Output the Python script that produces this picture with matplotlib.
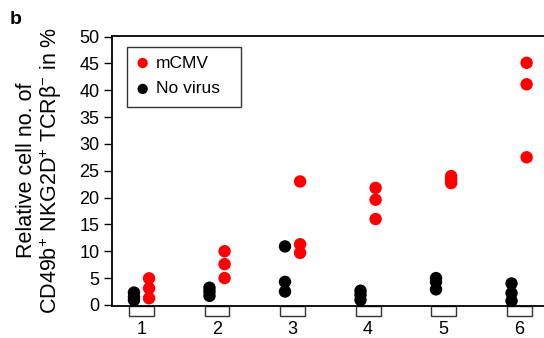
import matplotlib
matplotlib.use("Agg")
import matplotlib.pyplot as plt
from matplotlib.patches import Rectangle
from matplotlib.transforms import blended_transform_factory

plt.rcParams['font.family'] = ['Liberation Sans', 'DejaVu Sans']
plt.rcParams['mathtext.fontset'] = 'custom'
plt.rcParams['mathtext.rm'] = 'Liberation Sans'
plt.rcParams['mathtext.it'] = 'Liberation Sans'
plt.rcParams['mathtext.default'] = 'rm'

groups = [1, 2, 3, 4, 5, 6]
mcmv = [
    [4.95, 3.1, 1.25],
    [10.0, 7.6, 5.0],
    [23.0, 11.3, 9.7],
    [21.8, 19.6, 16.0],
    [24.0, 23.4, 22.7],
    [45.1, 41.1, 27.5],
]
novirus = [
    [2.3, 1.5, 0.9],
    [3.2, 2.5, 1.7],
    [10.9, 4.3, 2.5],
    [2.65, 1.9, 0.93],
    [5.0, 4.3, 2.9],
    [4.0, 2.2, 0.75],
]
yticks = [0, 5, 10, 15, 20, 25, 30, 35, 40, 45, 50]
legend_labels = ['mCMV', 'No virus']
red = '#ff0000'

fig = plt.figure(figsize=(5.44, 3.38), dpi=100)
ax = fig.add_axes([112/544, 32/338, 1 - 112/544, 270/338])

off = 0.1
for g, vals in zip(groups, novirus):
    ax.scatter([g - off]*len(vals), vals, s=80, color='black', edgecolors='none', zorder=3, clip_on=False)
for g, vals in zip(groups, mcmv):
    ax.scatter([g + off]*len(vals), vals, s=80, color=red, edgecolors='none', zorder=3, clip_on=False)

ax.set_xlim(0.609, 6.33)
ax.set_ylim(-0.2, 50.1)
ax.set_yticks(yticks)
ax.set_yticklabels([str(t) for t in yticks], fontsize=13)
ax.tick_params(axis='y', direction='out', length=6, width=1, pad=3)
ax.set_xticks(groups)
ax.set_xticklabels([str(g) for g in groups], fontsize=13)
ax.tick_params(axis='x', length=0, pad=10.5)

for s in ['left', 'bottom', 'top']:
    ax.spines[s].set_linewidth(1.3)
ax.spines['right'].set_visible(False)

trans = blended_transform_factory(ax.transData, ax.transAxes)
for g in groups:
    ax.add_patch(Rectangle((g - 0.165, -0.037), 0.33, 0.037, transform=trans,
                           facecolor='white', edgecolor='#333333', lw=1.0, clip_on=False))

fig.text(40/544, 1 - 170/338,
         'Relative cell no. of\nCD49b$^{+}$ NKG2D$^{+}$ TCRβ$^{-}$ in %',
         fontsize=15.5, rotation=90, ha='center', va='center', multialignment='center',
         linespacing=1.05)

# legend box drawn manually
ax.add_patch(Rectangle((0.034, 0.738), 0.265, 0.222, transform=ax.transAxes,
                       facecolor='white', edgecolor='#333333', lw=1.0, zorder=4))
for lab, col, yy in zip(legend_labels, [red, 'black'], [0.900, 0.804]):
    ax.scatter([0.071], [yy], s=55, color=col, edgecolors='none', transform=ax.transAxes, zorder=5)
    ax.text(0.102, yy, lab, transform=ax.transAxes, fontsize=12.5, va='center', ha='left', zorder=5)

fig.text(10/544, 1 - 20/338, 'b', fontsize=14, fontweight='bold', va='center', ha='left')

fig.savefig('out.png', dpi=100)
